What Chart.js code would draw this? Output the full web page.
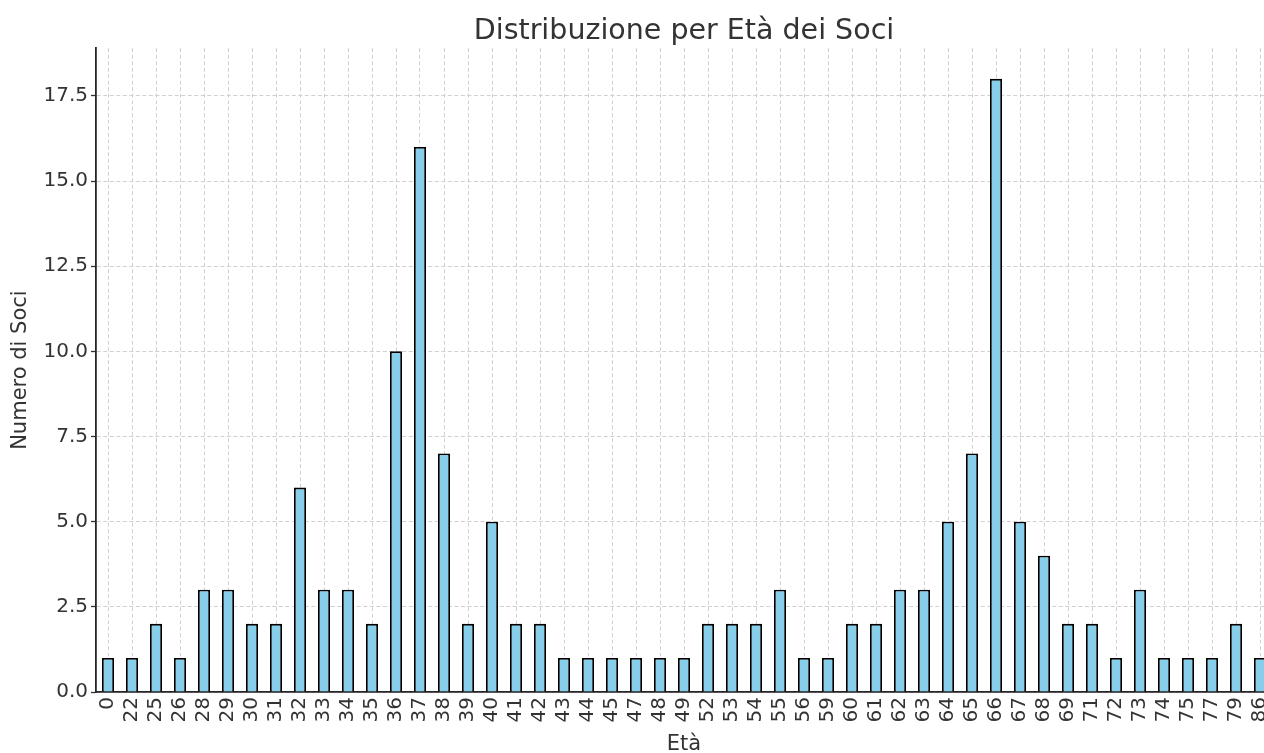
<!DOCTYPE html>
<html>
<head>
<meta charset="utf-8">
<script src="https://cdn.jsdelivr.net/npm/chart.js@4/dist/chart.umd.min.js"></script>
<style>
    html, body { margin: 0; padding: 0; overflow: hidden; background: #fff; }
    #eta { display: block; width: 1264px; height: 753px; }
</style>
</head>
<body>
<canvas id="eta" width="1264" height="753"></canvas>
<script>
// eta' dei soci e quanti soci per ogni eta'
const etaLabels = ['0', '22', '25', '26', '28', '29', '30', '31', '32', '33', '34', '35', '36', '37', '38', '39', '40', '41', '42', '43', '44', '45', '47', '48', '49',
    '52', '53', '54', '55', '56', '59', '60', '61', '62', '63', '64', '65', '66', '67', '68', '69', '71', '72', '73', '74', '75', '77', '79', '86'];
const numeroSoci = [1, 1, 2, 1, 3, 3, 2, 2, 6, 3, 3, 2, 10, 16, 7, 2, 5, 2, 2, 1, 1, 1, 1, 1, 1,
    2, 2, 2, 3, 1, 1, 2, 2, 3, 3, 5, 7, 18, 5, 4, 2, 2, 1, 3, 1, 1, 1, 2, 1];
const yMax = 18.9;
const yStep = 2.5;

Chart.defaults.font.family = "'DejaVu Sans', sans-serif";
Chart.defaults.color = '#333';

var ctxEta = document.getElementById('eta').getContext('2d');

// l'asse x nell'originale continua oltre il bordo destro (l'ultima barra e' tagliata)
const xOltreBordo = {
    id: 'xOltreBordo',
    afterLayout: function (chart) {
        const x = chart.scales.x;
        x.right = x.left + etaLabels.length * 24;
        x.width = x.right - x.left;
        x.configure();
        chart.chartArea.right = chart.width;
        chart.chartArea.width = chart.chartArea.right - chart.chartArea.left;
        if (chart.titleBlock) {
            chart.titleBlock.left = x.left;
            chart.titleBlock.right = x.right;
        }
    }
};

const etaConfig = {
    type: 'bar',
    data: {
        labels: etaLabels,
        datasets: [{
            label: 'Numero di Soci',
            data: numeroSoci,
            backgroundColor: '#87ceeb',
            borderColor: '#000',
            borderWidth: 1.8,
            barPercentage: 0.5,
            categoryPercentage: 1.0
        }]
    },
    options: {
        responsive: false,
        animation: false,
        devicePixelRatio: 1,
        layout: {
            padding: { left: 0, right: 0, top: 0, bottom: 0 }
        },
        plugins: {
            legend: { display: false },
            tooltip: { enabled: false },
            title: {
                display: true,
                text: 'Distribuzione per Età dei Soci',
                font: { size: 28.5, weight: 'normal' },
                color: '#333',
                padding: { top: 14, bottom: 0 }
            }
        },
        scales: {
            x: {
                offset: true,
                grid: {
                    offset: false,
                    color: '#d0d0d0',
                    lineWidth: 1,
                    drawTicks: false
                },
                border: { display: true, color: '#262626', width: 1.8, dash: [4, 2.5] },
                ticks: {
                    autoSkip: false,
                    minRotation: 90,
                    maxRotation: 90,
                    padding: 5,
                    font: { size: 20 },
                    color: '#333'
                },
                title: {
                    display: true,
                    text: 'Età',
                    font: { size: 21, lineHeight: 0.8 },
                    color: '#333',
                    padding: { top: 0, bottom: 0 }
                },
                afterFit: function (scale) { scale.height = 61; }
            },
            y: {
                min: 0,
                max: yMax,
                grid: {
                    color: '#d0d0d0',
                    lineWidth: 1,
                    tickLength: 5,
                    tickColor: '#333',
                    tickBorderDash: [],
                    tickWidth: 1.3
                },
                border: { display: true, color: '#262626', width: 1.8, dash: [4, 2.5] },
                ticks: {
                    stepSize: yStep,
                    includeBounds: false,
                    padding: 3,
                    font: { size: 20 },
                    color: '#333',
                    callback: function (v) { return v.toFixed(1); }
                },
                title: {
                    display: true,
                    text: 'Numero di Soci',
                    font: { size: 21 },
                    color: '#333',
                    padding: { top: 8, bottom: 4 }
                },
                afterFit: function (scale) { scale.width = 96; }
            }
        }
    },
    plugins: [xOltreBordo]
};
var etaChart = new Chart(ctxEta, etaConfig);
</script>
</body>
</html>
